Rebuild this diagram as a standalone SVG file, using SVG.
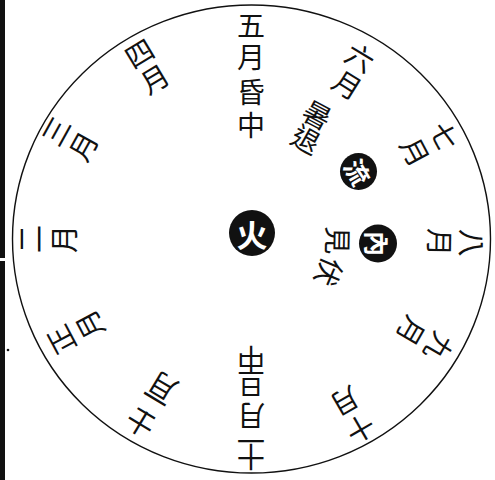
<svg xmlns="http://www.w3.org/2000/svg" width="495" height="480" viewBox="0 0 495 480">
<style>
.m{font-family:"Noto Sans CJK TC","Noto Sans CJK SC","Noto Sans CJK JP",sans-serif;font-size:28px;fill:#111;text-anchor:middle;dominant-baseline:central}
.w{font-family:"Noto Sans CJK TC","Noto Sans CJK SC","Noto Sans CJK JP",sans-serif;font-size:25px;fill:#fff;text-anchor:middle;dominant-baseline:central;font-weight:bold}
.dot{fill:#111}
</style>
<rect width="495" height="480" fill="#fff"/>
<rect x="0" y="0" width="5" height="258" fill="#111"/>
<rect x="0" y="261" width="5" height="219" fill="#111"/>
<circle cx="8" cy="350" r="1.3" class="dot"/>
<ellipse id="rim" cx="251.5" cy="239" rx="239" ry="234" fill="none" stroke="#111" stroke-width="1.4"/>
<g id="m5">
<text class="m" transform="rotate(0 251 239)" x="251" y="24">五</text>
<text class="m" transform="rotate(0 251 239)" x="251" y="56">月</text>
<text class="m" transform="rotate(0 251 239)" x="251" y="91">昏</text>
<text class="m" transform="rotate(0 251 239)" x="251" y="124">中</text>
</g>
<g id="m6">
<text class="m" transform="rotate(31 251 239)" x="251" y="26">六</text>
<text class="m" transform="rotate(32 251 239)" x="251" y="56">月</text>
<text class="m" transform="rotate(28 251 239)" x="251" y="97">暑</text>
<text class="m" transform="rotate(29 251 239)" x="251" y="124">退</text>
</g>
<g id="m7">
<text class="m" transform="rotate(62 251 239)" x="251" y="19">七</text>
<text class="m" transform="rotate(62 251 239)" x="251" y="52">月</text>
</g>
<g id="m8">
<text class="m" transform="rotate(91 251 239)" x="251" y="17">八</text>
<text class="m" transform="rotate(91 251 239)" x="251" y="49">月</text>
</g>
<g id="m9">
<text class="m" transform="rotate(120 251 239)" x="251" y="21">九</text>
<text class="m" transform="rotate(120 251 239)" x="251" y="53">月</text>
</g>
<g id="m10">
<text class="m" transform="rotate(150 251 239)" x="251" y="19">十</text>
<text class="m" transform="rotate(150 251 239)" x="251" y="50">月</text>
</g>
<g id="m11">
<text class="m" transform="rotate(180 251 239)" x="251" y="20">十</text>
<text class="m" transform="rotate(180 251 239)" x="251" y="36">一</text>
<text class="m" transform="rotate(180 251 239)" x="251" y="61">月</text>
<text class="m" transform="rotate(180 251 239)" x="251" y="93">旦</text>
<text class="m" transform="rotate(180 251 239)" x="251" y="118">中</text>
</g>
<g id="m12">
<text class="m" transform="rotate(211 251 239)" x="251" y="23">十</text>
<text class="m" transform="rotate(211 251 239)" x="251" y="42">二</text>
<text class="m" transform="rotate(211 251 239)" x="251" y="66">月</text>
</g>
<g id="m1">
<text class="m" transform="rotate(242 251 239)" x="251" y="23">正</text>
<text class="m" transform="rotate(242 251 239)" x="251" y="55">月</text>
</g>
<g id="m2">
<text class="m" transform="rotate(270 251 239)" x="251" y="17">二</text>
<text class="m" transform="rotate(270 251 239)" x="251" y="51">月</text>
</g>
<g id="m3">
<text class="m" transform="rotate(299 251 239)" x="251" y="15">三</text>
<text class="m" transform="rotate(299 251 239)" x="251" y="46">月</text>
</g>
<g id="m4">
<text class="m" transform="rotate(329 251 239)" x="251" y="21">四</text>
<text class="m" transform="rotate(329 251 239)" x="251" y="51">月</text>
</g>
<g id="inner">
<text class="m" transform="rotate(91 251 239)" x="251" y="151">見</text>
<text class="m" transform="rotate(113 251 239)" x="251" y="153">伏</text>
</g>
<g id="fire">
<circle cx="252" cy="233" r="23" fill="#111"/>
<text class="w" x="252" y="233" style="font-size:31px">火</text>
</g>
<g id="liu">
<circle cx="358.5" cy="171.5" r="18.5" fill="#111"/>
<text class="w" transform="rotate(60 358.5 171.5)" x="358.5" y="171.5">流</text>
</g>
<g id="nei">
<circle cx="378" cy="243.5" r="19" fill="#111"/>
<text class="w" transform="rotate(90 378 243.5)" x="378" y="243.5">內</text>
</g>
</svg>
